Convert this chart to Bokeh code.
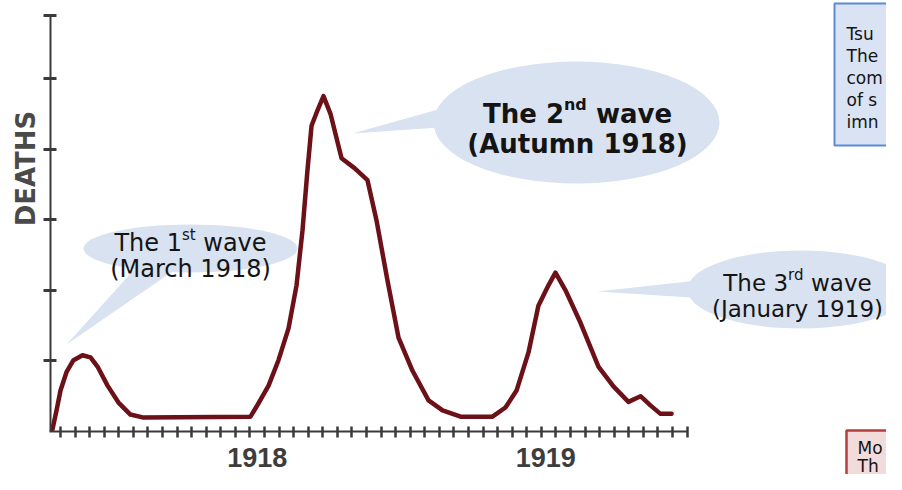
import math
from bokeh.plotting import figure
from bokeh.models import LinearAxis, FixedTicker, Range1d
from bokeh.core.properties import value
from bokeh.embed import file_html
from bokeh.resources import INLINE

# ---------------- data ----------------
weeks = [0.45, 0.73, 1.00, 1.41, 1.89, 2.51, 3.06, 3.54, 4.23, 4.98, 5.80, 6.63,
         14.04, 14.59, 15.28, 15.96, 16.65, 17.20, 17.61, 17.95, 18.23, 18.64, 19.05,
         19.53, 20.29, 21.18, 22.07, 22.69, 23.44, 24.20, 25.16, 26.26, 27.22, 28.46,
         30.65, 31.54, 32.30, 33.12, 33.80, 34.49, 34.97, 35.66, 36.69, 37.92, 38.95,
         39.98, 40.81, 41.49, 42.18, 42.94]
deaths = [0.03, 0.30, 0.58, 0.84, 1.01, 1.08, 1.05, 0.92, 0.65, 0.41, 0.24, 0.20,
          0.21, 0.40, 0.65, 1.01, 1.46, 2.07, 2.85, 3.70, 4.33, 4.55, 4.75,
          4.50, 3.87, 3.73, 3.56, 2.99, 2.14, 1.33, 0.86, 0.44, 0.30, 0.21,
          0.21, 0.34, 0.58, 1.12, 1.78, 2.07, 2.25, 2.00, 1.54, 0.92, 0.64,
          0.42, 0.50, 0.37, 0.25, 0.25]
x_ticks = list(range(1, 45))
y_ticks = [1, 2, 3, 4, 5, 5.89]
year_labels = ["1918", "1919"]
year_positions = [14.5, 34.3]
y_axis_title = "DEATHS"
callout_1 = ["The 1", "st", "wave", "(March 1918)"]
callout_2 = ["The 2", "nd", "wave", "(Autumn 1918)"]
callout_3 = ["The 3", "rd", "wave", "(January 1919)"]
box_blue_lines = ["Tsu", "The", "com", "of s", "imn"]
box_red_lines = ["Mo", "Th"]

# ---------------- layout helpers ----------------
W, H = 886, 474
X0, XS = 45.43, 14.57   # px of week 0, px per week
Y0, YS = 431.0, 70.6    # px of zero deaths, px per unit


def dx(px):
    return (px - X0) / XS


def dy(py):
    return (Y0 - py) / YS


p = figure(width=W, height=H, title=None,
           x_range=Range1d(dx(0), dx(W)), y_range=Range1d(dy(H), dy(0)),
           x_axis_type=None, y_axis_type=None,
           output_backend="svg", toolbar_location=None, min_border=0,
           outline_line_color=None, background_fill_color="white",
           border_fill_color="white")

FILL = "#d9e2f0"
TXT = "#141414"


def callout(cx, cy, w, h, tail):
    p.ellipse(x=[dx(cx)], y=[dy(cy)], width=[w / XS], height=[h / YS],
              fill_color=FILL, line_color=None)
    p.patch(x=[dx(a) for a, b in tail], y=[dy(b) for a, b in tail],
            fill_color=FILL, line_color=None)

callout(190, 248, 214, 48, [(140, 262), (66, 344), (185, 262)])
callout(576, 122, 286, 122, [(452, 105), (352, 133), (452, 126)])
callout(800, 289, 226, 78, [(706, 279), (597, 291), (706, 298)])

REG = {'T': .611, 'h': .634, 'e': .615, ' ': .318, '1': .636, '2': .636, '3': .636,
       's': .521, 't': .392, 'w': .818, 'a': .613, 'v': .592, 'r': .411, 'd': .635,
       'n': .634}
BOLD = {'T': .682, 'h': .712, 'e': .678, ' ': .348, '2': .696, 'n': .712, 'd': .716,
        'w': .924, 'a': .675, 'v': .652}


def tw(s, size, bold):
    tab = BOLD if bold else REG
    return sum(tab.get(c, .6) for c in s) * size


def txt(x, y, s, size, bold=False, align="left", color=TXT, font="DejaVu Sans",
        angle=0.0, baseline="alphabetic"):
    p.text(x=[dx(x)], y=[dy(y)], text=[s], text_font=value(font),
           text_font_size=f"{size}px", text_font_style="bold" if bold else "normal",
           text_align=align, text_baseline=baseline, text_color=color, angle=angle)


def wave_label(parts, cx, base1, base2, size, sup_size, sup_raise, bold):
    head, sup, tail, line2 = parts
    gap = tw(" ", size, bold)
    total = tw(head, size, bold) + tw(sup, sup_size, bold) + gap + tw(tail, size, bold)
    x = cx - total / 2
    txt(x, base1, head, size, bold)
    x += tw(head, size, bold)
    txt(x, base1 - sup_raise, sup, sup_size, bold)
    x += tw(sup, sup_size, bold) + gap
    txt(x, base1, tail, size, bold)
    txt(cx, base2, line2, size, bold, align="center")

wave_label(callout_1, 190, 242, 268, 24, 15, 8, False)
wave_label(callout_2, 577, 113, 143, 26, 16, 9, True)
wave_label(callout_3, 797, 282, 308, 23, 15, 8, False)

# side boxes (cut by the picture edge)
p.quad(left=[dx(834)], right=[dx(1000)], top=[dy(3)], bottom=[dy(145)],
       fill_color="#dae3f3", line_color="#5b8ad6", line_width=2)
for i, s in enumerate(box_blue_lines):
    txt(846, 33 + 22 * i, s, 17)
p.quad(left=[dx(846)], right=[dx(1000)], top=[dy(430)], bottom=[dy(560)],
       fill_color="#f2dcdb", line_color="#b3403f", line_width=2.5)
for i, s in enumerate(box_red_lines):
    txt(857, 447 + 18 * i, s, 17)

# y title
txt(25, 168, y_axis_title, 26, bold=True, align="center", color="#4a4a4a",
    angle=math.pi / 2, baseline="middle")

# the curve
p.line(weeks, deaths, line_color="#6b1117", line_width=4.5, line_join="round",
       line_cap="round")

# axes
AX = "#3a3a3a"
xaxis = LinearAxis(fixed_location=0, ticker=FixedTicker(ticks=x_ticks),
                   bounds=(dx(49), dx(687)))
xaxis.major_label_overrides = {t: "" for t in x_ticks}
xaxis.axis_line_color = AX
xaxis.axis_line_width = 2
xaxis.major_tick_in = 5
xaxis.major_tick_out = 6
xaxis.major_tick_line_width = 2.5
xaxis.major_tick_line_color = AX
xaxis.minor_tick_line_color = None
p.add_layout(xaxis, "below")

yaxis = LinearAxis(fixed_location=dx(50), ticker=FixedTicker(ticks=y_ticks),
                   bounds=(0, 5.89))
yaxis.major_label_overrides = {t: "" for t in y_ticks}
yaxis.axis_line_color = AX
yaxis.axis_line_width = 2
yaxis.major_tick_in = 6
yaxis.major_tick_out = 7
yaxis.major_tick_line_width = 3
yaxis.major_tick_line_color = AX
yaxis.minor_tick_line_color = None
p.add_layout(yaxis, "left")

year_axis = LinearAxis(fixed_location=0, ticker=FixedTicker(ticks=year_positions))
year_axis.major_label_overrides = dict(zip(year_positions, year_labels))
year_axis.axis_line_color = None
year_axis.major_tick_line_color = None
year_axis.minor_tick_line_color = None
year_axis.major_tick_in = 0
year_axis.major_tick_out = 0
year_axis.major_label_standoff = 16
year_axis.major_label_text_font = "Liberation Sans"
year_axis.major_label_text_font_style = "bold"
year_axis.major_label_text_font_size = "27px"
year_axis.major_label_text_color = "#3d3d3d"
p.add_layout(year_axis, "below")

open("out.html", "w").write(file_html(p, INLINE))
